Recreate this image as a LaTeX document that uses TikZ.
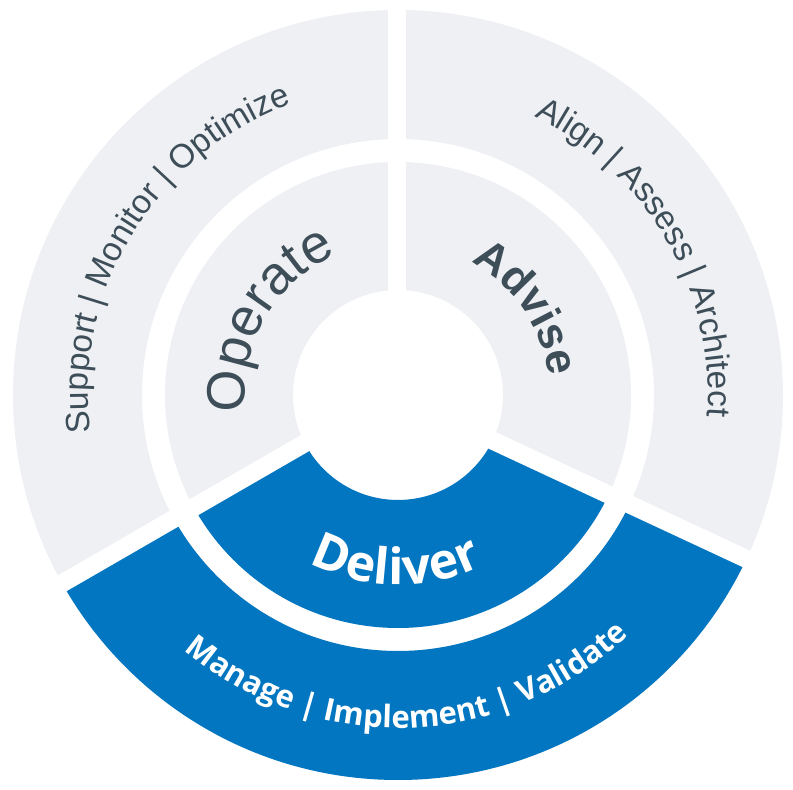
\documentclass[tikz,border=0pt]{standalone}
\usepackage{fontspec}
\setmainfont{Liberation Sans}
\newfontfamily\opensans{Open Sans}
\usetikzlibrary{decorations.text}
\definecolor{ringgray}{RGB}{239,240,244}
\definecolor{ringblue}{RGB}{2,118,192}
\definecolor{txtdark}{RGB}{61,78,89}
\begin{document}
\begin{tikzpicture}[x=1pt,y=1pt,
  gapline/.style={white, line width=18pt},
  arctext/.style={decorate, decoration={text along path, text align=center, text={#1}}},
  fittext/.style={decorate, decoration={text along path, text align=fit to path, text={#1}}},
]
\useasboundingbox (0,0) rectangle (793,790);
\coordinate (C) at (398,395);
\coordinate (GL) at (397,400);
\coordinate (GR) at (397,394);
\coordinate (GT) at (397,395);
\coordinate (LF) at ([shift={(210:700)}]GL);
\coordinate (RF) at ([shift={(-25:700)}]GR);
\coordinate (BOT) at (0,-400);
% rings
\fill[ringgray, even odd rule] (C) circle[radius=385] (C) circle[radius=256];
\fill[ringgray, even odd rule] (C) circle[radius=233] (C) circle[radius=105];
% deliver segment
\begin{scope}
\clip (LF) -- (GL) -- (GR) -- (RF) -- (RF |- BOT) -- (LF |- BOT) -- cycle;
\fill[ringblue, even odd rule] (C) circle[radius=385] (C) circle[radius=256];
\fill[ringblue, even odd rule] (C) circle[radius=233] (C) circle[radius=105];
\end{scope}
% gaps
\draw[gapline] (GT) -- ++(90:420);
\draw[gapline] (GL) -- ++(210:460);
\draw[gapline] (GR) -- ++(-25:460);
% texts
\path[arctext={|\fontsize{33.5}{40}\selectfont\color{txtdark}|Support {|} Monitor {|} Optimize}]
  ([shift={(228.5:310)}]C) arc[start angle=228.5, end angle=68.5, radius=310];
\path[arctext={|\fontsize{33.5}{40}\selectfont\color{txtdark}|Align {|} Assess {|} Architect}]
  ([shift={(110:310)}]C) arc[start angle=110, end angle=-50, radius=310];
\path[arctext={|\fontsize{54}{60}\selectfont\color{txtdark}|Operate}]
  ([shift={(230:153)}]C) arc[start angle=230, end angle=70, radius=153];
\path[arctext={|\fontsize{44}{50}\selectfont\bfseries\color{txtdark}|Advise}]
  ([shift={(114:152)}]C) arc[start angle=114, end angle=-46, radius=152];
\path[fittext={|\opensans\fontsize{50}{56}\selectfont\bfseries\color{white}|Deliver}]
  ([shift={(242:190)}]C) arc[start angle=242, end angle=296.5, radius=190];
\path[arctext={|\opensans\fontsize{31}{40}\selectfont\bfseries\color{white}|Manage {|} Implement {|} Validate}]
  ([shift={(192:333)}]C) arc[start angle=192, end angle=352, radius=333];
\end{tikzpicture}
\end{document}
